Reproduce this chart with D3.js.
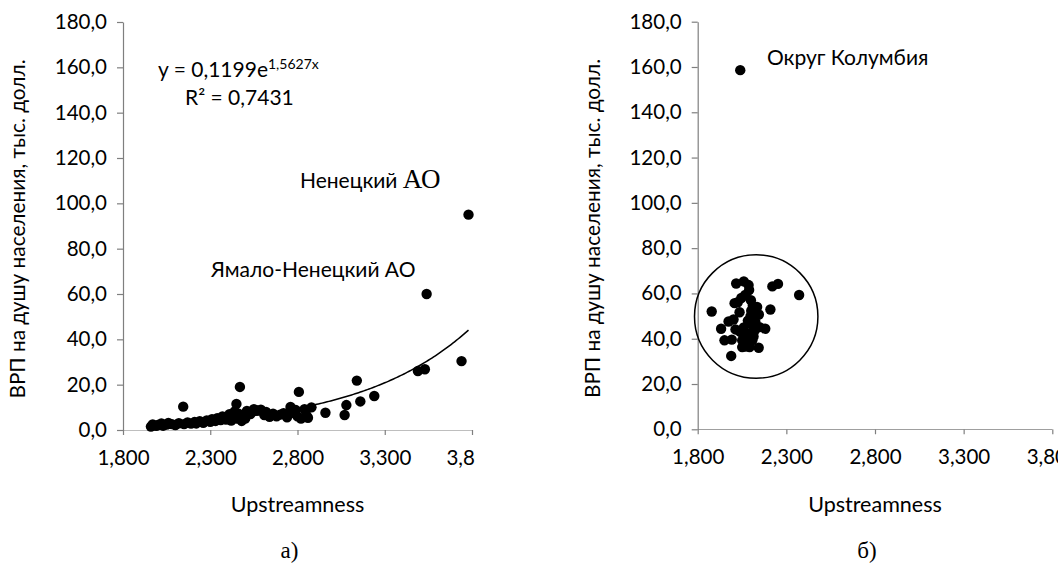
<!DOCTYPE html>
<html><head><meta charset="utf-8">
<script src="https://cdn.jsdelivr.net/npm/d3@7"></script>
<style>
body{margin:0;background:#fff;}
svg{display:block;}
text{font-family:Lato,"Open Sans",sans-serif;fill:#000;}
</style></head>
<body>
<svg id="c" width="1058" height="565"></svg>
<script>
// ---- data ----
const xTicks = [1.8, 2.3, 2.8, 3.3, 3.8];
const yTicks = [0, 20, 40, 60, 80, 100, 120, 140, 160, 180];
const xLabel = "Upstreamness";
const yLabel = "ВРП на душу населения, тыс. долл.";
const trendA = 0.1199, trendB = 1.5627;
const trendRange = [1.96, 3.78];
const ruX = [1.96,1.97,1.99,2.00,2.02,2.03,2.05,2.06,2.08,2.10,2.12,2.145,2.15,2.17,2.19,2.21,2.22,2.24,2.26,2.28,2.30,2.31,2.33,2.34,2.36,2.37,2.39,2.40,2.41,2.42,2.43,2.44,2.45,2.45,2.46,2.47,2.48,2.49,2.50,2.51,2.53,2.55,2.57,2.59,2.61,2.62,2.64,2.66,2.68,2.70,2.72,2.74,2.76,2.77,2.79,2.80,2.808,2.82,2.84,2.85,2.86,2.88,2.96,3.07,3.08,3.14,3.16,3.24,3.49,3.53,3.54,3.74,3.78];
const ruY = [1.5,2.5,1.8,2.2,2.9,1.9,2.4,3.1,2.6,2.2,3.0,10.3,2.6,3.3,2.8,3.5,2.9,3.9,3.2,4.2,3.6,4.8,4.0,5.2,4.4,6.0,4.6,5.5,7.0,4.2,6.4,8.2,5.0,11.5,7.3,19.0,4.0,6.0,5.0,8.4,7.0,9.2,8.6,9.0,6.6,8.0,5.8,7.2,6.0,6.8,7.4,5.6,10.2,7.6,8.8,6.0,16.8,5.0,9.2,6.6,5.4,10.0,7.6,6.6,11.0,21.8,12.6,15.0,26.0,26.8,60.0,30.4,95.0];
const usX = [1.879,1.932,1.951,1.992,1.989,1.974,2.002,2.008,2.017,2.06,2.087,2.046,2.068,2.013,2.036,2.051,2.051,2.093,2.144,2.111,2.13,2.145,2.083,2.102,2.121,2.074,2.093,2.074,2.181,2.149,2.21,2.221,2.253,2.372,2.111,2.102,2.118,2.083,2.108,2.026,2.09,2.125,2.06,2.04,2.115,2.098,2.135,2.07,2.112,2.1,2.04];
const usY = [52.0,44.4,39.3,39.6,32.4,47.6,48.5,55.7,64.4,65.3,63.7,58.0,59.3,44.1,51.7,39.3,36.3,36.3,36.0,54.6,51.0,50.7,48.0,46.6,43.6,42.2,40.7,39.3,44.4,45.1,52.9,63.1,64.2,59.3,49.5,52.4,53.5,42.2,39.3,56.1,61.5,47.5,45.0,43.0,41.0,50.0,54.0,36.5,45.8,57.0,158.6];
const circleCenter = [2.13, 49.8];

const svg = d3.select("#c");
const fmtX = v => d3.format(".3f")(v).replace(".", ",");
const fmtY = v => d3.format(".1f")(v).replace(".", ",");

function panel(cfg){
  const x = d3.scaleLinear().domain([1.8, 3.8]).range([cfg.x0, cfg.x1]);
  const y = d3.scaleLinear().domain([0, 180]).range([cfg.yb, cfg.yt]);
  const g = svg.append("g");
  const clipId = "clip" + cfg.id;
  svg.append("defs").append("clipPath").attr("id", clipId)
    .append("rect").attr("x", 0).attr("y", 0).attr("width", cfg.clipR).attr("height", 565);
  const xa = g.append("g").attr("transform", `translate(0,${cfg.yb})`).attr("clip-path", `url(#${clipId})`)
    .call(d3.axisBottom(x).tickValues(xTicks).tickFormat(fmtX).tickSize(5).tickSizeOuter(0));
  const ya = g.append("g").attr("transform", `translate(${cfg.x0},0)`)
    .call(d3.axisLeft(y).tickValues(yTicks).tickFormat(fmtY).tickSize(6).tickSizeOuter(0));
  [xa, ya].forEach(a => {
    a.selectAll("path,line").attr("stroke", "#7f7f7f").attr("stroke-width", 1.2);
    a.selectAll("text").style("font-size", "20.5px").attr("fill", "#000");
  });
  ya.selectAll("text").attr("dx", "-7px");
  xa.selectAll("text").attr("dy", "1.3em");
  xa.select(".domain").attr("d", `M${cfg.x0},0H${cfg.x1}`);

  g.append("text").attr("x", (cfg.x0 + cfg.x1) / 2).attr("y", 512).attr("text-anchor", "middle")
    .style("font-size", "21.5px").text(xLabel);
  g.append("text").attr("transform", `translate(${cfg.x0 - 98},${(cfg.yt + cfg.yb) / 2 + 3}) rotate(-90)`)
    .attr("text-anchor", "middle").style("font-size", "20.8px").text(yLabel);
  g.append("text").attr("x", (cfg.x0 + cfg.x1) / 2 - 8).attr("y", 558).attr("text-anchor", "middle")
    .style("font-family", "'Liberation Serif','Times New Roman',serif").style("font-size", "23px").text(cfg.tag);

  g.append("g").selectAll("circle").data(d3.zip(cfg.xs, cfg.ys)).join("circle")
    .attr("cx", d => x(d[0])).attr("cy", d => y(d[1])).attr("r", 5.2).attr("fill", "#000");
  return {g, x, y};
}

// left panel
const L = panel({id: "L", x0: 123, x1: 472, yb: 430, yt: 22, clipR: 475, xs: ruX, ys: ruY, tag: "а)"});
const trend = d3.range(trendRange[0], trendRange[1] + 0.001, 0.01).map(v => [v, trendA * Math.exp(trendB * v)]);
L.g.append("path").datum(trend).attr("fill", "none").attr("stroke", "#000").attr("stroke-width", 1.5)
  .attr("d", d3.line().x(d => L.x(d[0])).y(d => L.y(d[1])));
const eq = L.g.append("text").attr("x", 158).attr("y", 77).style("font-size", "21px");
eq.append("tspan").text("y = 0,1199e");
eq.append("tspan").attr("dy", "-8").style("font-size", "14px").text("1,5627x");
L.g.append("text").attr("x", 185).attr("y", 105).style("font-size", "21px").text("R² = 0,7431");
const nen = L.g.append("text").attr("x", 300).attr("y", 188).style("font-size", "21px");
nen.append("tspan").text("Ненецкий ");
nen.append("tspan").style("font-family", "'Liberation Serif','Times New Roman',serif").style("font-size", "27px").text("АО");
L.g.append("text").attr("x", 211).attr("y", 277).style("font-size", "21px").text("Ямало-Ненецкий АО");

// right panel
const R = panel({id: "R", x0: 697.7, x1: 1052.3, yb: 429.3, yt: 21.7, clipR: 1058, xs: usX, ys: usY, tag: "б)"});
R.g.append("circle").attr("cx", R.x(circleCenter[0])).attr("cy", R.y(circleCenter[1])).attr("r", 61.7)
  .attr("fill", "none").attr("stroke", "#000").attr("stroke-width", 1.5);
R.g.append("text").attr("x", 767).attr("y", 65).style("font-size", "21px").text("Округ Колумбия");
</script>
</body></html>
